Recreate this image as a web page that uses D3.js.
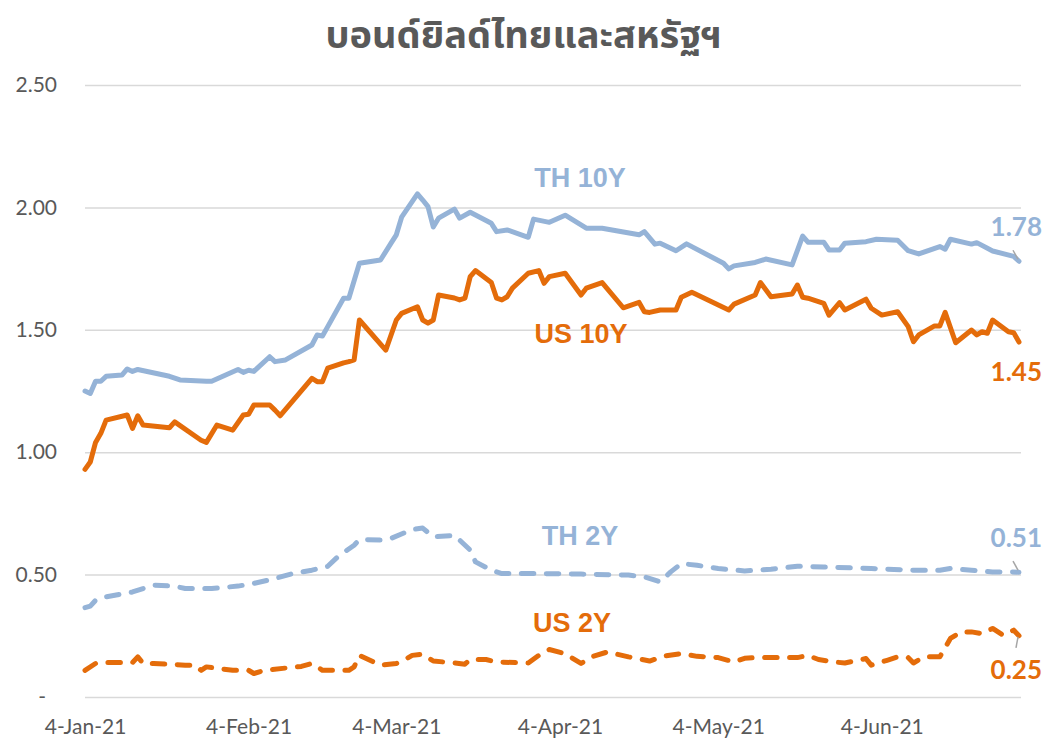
<!DOCTYPE html>
<html>
<head>
<meta charset="utf-8">
<script src="https://cdn.jsdelivr.net/npm/d3@7"></script>
<style>
  html, body { margin: 0; padding: 0; background: #fff; }
  svg { display: block; }
</style>
</head>
<body>
<svg id="chart" width="1047" height="738"></svg>
<script>
// ---------------- DATA ----------------
const chartTitle = "บอนด์ยิลด์ไทยและสหรัฐฯ";
const yTickValues = [0, 0.5, 1.0, 1.5, 2.0, 2.5];
const xTickDates = ["2021-01-04", "2021-02-04", "2021-03-04", "2021-04-04", "2021-05-04", "2021-06-04"];

const th10Dates = ["01-04","01-05","01-06","01-07","01-08","01-11","01-12","01-13","01-14","01-20","01-22","01-27","01-28",
  "02-02","02-03","02-04","02-05","02-08","02-09","02-11","02-16","02-17","02-18","02-19","02-22","02-23","02-25",
  "03-01","03-03","03-04","03-05","03-08","03-09","03-10","03-11","03-12","03-15","03-16","03-18","03-22","03-23","03-25","03-29","03-30",
  "04-02","04-05","04-09","04-12","04-19","04-20","04-22","04-23","04-26","04-28",
  "05-05","05-06","05-07","05-11","05-13","05-18","05-20","05-21","05-24","05-25","05-27","05-28",
  "06-01","06-03","06-07","06-09","06-11","06-15","06-16","06-17","06-21","06-22","06-25","06-29","06-30"];
const th10Values = [1.25,1.24,1.29,1.29,1.31,1.315,1.34,1.33,1.338,1.31,1.295,1.29,1.29,
  1.338,1.326,1.335,1.33,1.39,1.37,1.377,1.438,1.479,1.475,1.513,1.629,1.629,1.772,
  1.785,1.854,1.888,1.96,2.055,2.03,2.003,1.92,1.956,1.993,1.956,1.98,1.935,1.901,1.908,1.878,1.952,
  1.939,1.968,1.915,1.915,1.888,1.901,1.85,1.854,1.823,1.851,
  1.772,1.749,1.761,1.775,1.789,1.765,1.883,1.858,1.858,1.826,1.826,1.854,
  1.86,1.87,1.866,1.823,1.81,1.84,1.829,1.87,1.85,1.856,1.822,1.80,1.78];

const us10Dates = ["01-04","01-05","01-06","01-07","01-08","01-12","01-13","01-14","01-15","01-20","01-21","01-26","01-27","01-29",
  "02-01","02-03","02-04","02-05","02-08","02-09","02-10","02-16","02-17","02-18","02-19","02-22","02-23","02-24","02-25",
  "03-02","03-04","03-05","03-08","03-09","03-10","03-11","03-12","03-15","03-16","03-17","03-18","03-19","03-22","03-23","03-24","03-25","03-26","03-29","03-31",
  "04-01","04-02","04-05","04-08","04-09","04-12","04-16","04-19","04-20","04-21","04-23","04-26","04-27","04-29",
  "05-06","05-07","05-11","05-12","05-14","05-18","05-19","05-20","05-21","05-24","05-25","05-27","05-28",
  "06-01","06-02","06-04","06-07","06-09","06-10","06-11","06-14","06-15","06-16","06-18","06-21","06-22","06-23","06-24","06-25","06-28","06-29","06-30"];
const us10Values = [0.93,0.96,1.04,1.077,1.131,1.152,1.097,1.149,1.111,1.10,1.124,1.049,1.04,1.111,
  1.09,1.152,1.155,1.193,1.193,1.172,1.149,1.302,1.288,1.288,1.343,1.365,1.37,1.377,1.54,
  1.417,1.54,1.567,1.594,1.54,1.527,1.54,1.642,1.63,1.622,1.629,1.717,1.742,1.693,1.629,1.622,1.635,1.67,1.731,1.742,
  1.69,1.717,1.731,1.642,1.67,1.693,1.59,1.612,1.574,1.571,1.581,1.581,1.633,1.653,
  1.581,1.605,1.642,1.693,1.635,1.646,1.683,1.633,1.629,1.608,1.56,1.611,1.581,
  1.625,1.588,1.56,1.574,1.513,1.451,1.479,1.516,1.516,1.571,1.447,1.499,1.479,1.492,1.486,1.54,1.492,1.488,1.45];

const th2Dates = ["01-04","01-05","01-06","01-08","01-13","01-15","01-17","01-21","01-23","01-28",
  "02-02","02-05","02-09","02-12","02-16","02-19","02-21","02-24","02-25",
  "03-01","03-03","03-06","03-07","03-09","03-11","03-15","03-16","03-18","03-19","03-22","03-24",
  "04-01","04-08","04-17","04-20","04-23","04-25","04-27","04-30",
  "05-04","05-09","05-14","05-19","05-24",
  "06-02","06-10","06-15","06-17","06-21","06-25","06-30"];
const th2Values = [0.365,0.371,0.395,0.409,0.429,0.443,0.457,0.453,0.443,0.443,
  0.453,0.464,0.484,0.502,0.518,0.534,0.575,0.62,0.643,
  0.641,0.648,0.675,0.684,0.69,0.654,0.66,0.641,0.60,0.552,0.518,0.504,
  0.504,0.502,0.498,0.491,0.47,0.511,0.545,0.538,
  0.525,0.515,0.522,0.534,0.531,
  0.525,0.518,0.518,0.525,0.518,0.511,0.51];

const us2Dates = ["01-04","01-06","01-08","01-13","01-14","01-15","01-17","01-23","01-25","01-26","01-27",
  "02-01","02-04","02-05","02-07","02-14","02-16","02-18","02-23","02-24","02-25","02-27",
  "03-01","03-04","03-05","03-07","03-09","03-11","03-15","03-17","03-18","03-21","03-23","03-29","03-31",
  "04-02","04-05","04-08","04-10","04-13","04-17","04-21","04-24","04-27","04-30",
  "05-04","05-07","05-09","05-11","05-19","05-21","05-23","05-26","05-28",
  "06-01","06-02","06-05","06-07","06-09","06-10","06-12","06-15","06-17","06-19","06-21","06-23","06-25","06-27","06-29","06-30"];
const us2Values = [0.109,0.137,0.141,0.141,0.164,0.137,0.137,0.13,0.13,0.109,0.123,
  0.109,0.109,0.096,0.109,0.125,0.137,0.109,0.109,0.123,0.17,0.15,
  0.13,0.137,0.145,0.17,0.175,0.147,0.139,0.134,0.153,0.153,0.143,0.139,0.17,
  0.194,0.177,0.137,0.164,0.184,0.164,0.147,0.168,0.177,0.166,
  0.161,0.143,0.158,0.161,0.161,0.17,0.153,0.143,0.139,
  0.157,0.13,0.15,0.164,0.161,0.139,0.164,0.164,0.239,0.266,0.266,0.259,0.28,0.252,0.273,0.25];

const seriesNames = ["TH 10Y", "US 10Y", "TH 2Y", "US 2Y"];

// ---------------- LAYOUT / STYLE ----------------
const W = 1047, H = 738;
const mLeft = 85, mRight = 1019, gridRight = 1021, mTop = 85, mBottom = 697;
const BLUE = "#95B3D7", ORANGE = "#E46C0A", GRID = "#D9D9D9", TEXT = "#595959";
const axisFont = "Lato, 'Open Sans', sans-serif";

const parse = d3.timeParse("%Y-%m-%d");
const mk = (dates, vals) => dates.map((d, i) => ({ date: parse("2021-" + d), v: vals[i] }));
const series = [
  { name: seriesNames[0], data: mk(th10Dates, th10Values), color: BLUE, dash: null,
    label: { x: 580, y: 187 }, end: { dy: -25, leader: [[-6, -11], [-1, -2]] } },
  { name: seriesNames[1], data: mk(us10Dates, us10Values), color: ORANGE, dash: null,
    label: { x: 581, y: 343 }, end: { dy: 39, leader: null } },
  { name: seriesNames[2], data: mk(th2Dates, th2Values), color: BLUE, dash: "12.5 12.5",
    label: { x: 580, y: 545 }, end: { dy: -25, leader: [[-6, -11], [-1, -2]] } },
  { name: seriesNames[3], data: mk(us2Dates, us2Values), color: ORANGE, dash: "12.5 12.5",
    label: { x: 572, y: 632 }, end: { dy: 43, leader: [[-1, 1], [-3, 12]] } }
];

const x = d3.scaleTime()
  .domain([parse("2021-01-04"), parse("2021-06-30")])
  .range([mLeft, mRight]);
const y = d3.scaleLinear().domain([0, 2.5]).range([mBottom, mTop]);

const svg = d3.select("#chart");

// title
svg.append("text")
  .attr("x", W / 2).attr("y", 48)
  .attr("text-anchor", "middle")
  .attr("font-family", "'Noto Sans Thai', 'Leelawadee UI', Tahoma, 'Noto Sans', sans-serif")
  .attr("font-size", 38).attr("font-weight", "bold")
  .attr("fill", TEXT)
  .text(chartTitle);

// y axis with gridlines
const yAxis = d3.axisLeft(y)
  .tickValues(yTickValues)
  .tickSize(-(gridRight - mLeft))
  .tickPadding(28)
  .tickFormat(d => d === 0 ? "-" : d3.format(".2f")(d));
const gy = svg.append("g").attr("transform", `translate(${mLeft},0)`).call(yAxis);
gy.select(".domain").remove();
gy.selectAll(".tick line").attr("stroke", GRID).attr("stroke-width", 1.5);
gy.selectAll(".tick text")
  .attr("fill", TEXT).attr("font-family", axisFont).attr("font-size", 21)
  .attr("dx", d => d === 0 ? -11 : 0);

// x axis
const xAxis = d3.axisBottom(x)
  .tickValues(xTickDates.map(parse))
  .tickSize(0).tickPadding(22)
  .tickFormat(d3.timeFormat("%-d-%b-%y"));
const gx = svg.append("g").attr("transform", `translate(0,${mBottom})`).call(xAxis);
gx.select(".domain").remove();
gx.selectAll(".tick text")
  .attr("fill", TEXT).attr("font-family", axisFont).attr("font-size", 21);

// lines
const line = d3.line().x(d => x(d.date)).y(d => y(d.v));
series.forEach(s => {
  svg.append("path")
    .datum(s.data)
    .attr("fill", "none")
    .attr("stroke", s.color)
    .attr("stroke-width", 5)
    .attr("stroke-linejoin", "round")
    .attr("stroke-linecap", "round")
    .attr("stroke-dasharray", s.dash)
    .attr("d", line);
});

// series labels
series.forEach(s => {
  svg.append("text")
    .attr("x", s.label.x).attr("y", s.label.y)
    .attr("text-anchor", "middle")
    .attr("font-family", "'Liberation Sans', Arial, sans-serif")
    .attr("font-size", 27).attr("font-weight", "bold")
    .attr("fill", s.color)
    .text(s.name);
});

// end value labels + leader lines
series.forEach(s => {
  const last = s.data[s.data.length - 1];
  const px = x(last.date), py = y(last.v);
  if (s.end.leader) {
    svg.append("line")
      .attr("x1", px + s.end.leader[0][0]).attr("y1", py + s.end.leader[0][1])
      .attr("x2", px + s.end.leader[1][0]).attr("y2", py + s.end.leader[1][1])
      .attr("stroke", "#A6A6A6").attr("stroke-width", 1.5);
  }
  svg.append("text")
    .attr("x", 1042).attr("y", py + s.end.dy)
    .attr("text-anchor", "end")
    .attr("font-family", axisFont)
    .attr("font-size", 26).attr("font-weight", "bold")
    .attr("fill", s.color)
    .text(d3.format(".2f")(last.v));
});
</script>
</body>
</html>
